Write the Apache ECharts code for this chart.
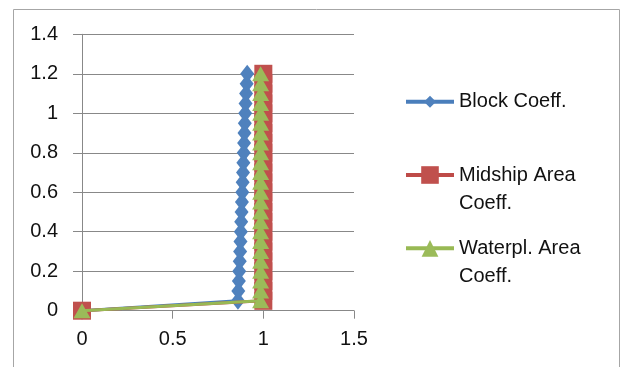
<!DOCTYPE html>
<html>
<head>
<meta charset="utf-8">
<script src="https://cdn.jsdelivr.net/npm/echarts@6/dist/echarts.min.js"></script>
<style>
html,body{margin:0;padding:0;background:#fff;}
#chart{width:622px;height:367px;}
</style>
</head>
<body>
<div id="chart"></div>
<script>
// Data
const seriesNames = ['Block Coeff.', 'Midship Area Coeff.', 'Waterpl. Area Coeff.'];
const legendLabels = ['Block Coeff.', '\nMidship Area\nCoeff.', '\nWaterpl. Area\nCoeff.'];
const draftY = [0, 0.05, 0.1, 0.15, 0.2, 0.25, 0.3, 0.35, 0.4, 0.45, 0.5, 0.55, 0.6, 0.65, 0.7, 0.75, 0.8, 0.85, 0.9, 0.95, 1.0, 1.05, 1.1, 1.15, 1.2];
const blockX = [0, 0.86, 0.862, 0.865, 0.867, 0.87, 0.872, 0.874, 0.876, 0.878, 0.88, 0.882, 0.884, 0.886, 0.888, 0.89, 0.892, 0.894, 0.896, 0.898, 0.9, 0.902, 0.905, 0.908, 0.911];
const midshipX = [0, 1, 1, 1, 1, 1, 1, 1, 1, 1, 1, 1, 1, 1, 1, 1, 1, 1, 1, 1, 1, 1, 1, 1, 1];
const waterplX = [0, 0.985, 0.985, 0.985, 0.985, 0.985, 0.985, 0.985, 0.985, 0.985, 0.985, 0.985, 0.985, 0.985, 0.985, 0.985, 0.985, 0.985, 0.985, 0.985, 0.985, 0.985, 0.985, 0.985, 0.985];
const xTicks = [0, 0.5, 1, 1.5];
const yTicks = [0, 0.2, 0.4, 0.6, 0.8, 1, 1.2, 1.4];

const pairs = (xs, ys) => xs.map((x, i) => [x, ys[i]]);

const lineColors = ['#4A7EBB', '#BE4B48', '#98B954'];
const fillColors = ['#4F81BD', '#C0504D', '#9BBB59'];
const symbols = ['diamond', 'rect', 'triangle'];
const symbolSizes = [[14, 18], [18, 18], [17, 15]];
const xsets = [blockX, midshipX, waterplX];

const font = 'Liberation Sans, Arial, sans-serif';
const chart = echarts.init(document.getElementById('chart'), null, {renderer: 'canvas'});

const legendTops = [87.7, 133, 206.3];
const legendIconH = [15, 22, 21];

const option = {
  backgroundColor: '#fff',
  animation: false,
  graphic: [{
    type: 'rect',
    shape: {x: 13.5, y: 9.5, width: 606, height: 380},
    style: {fill: 'none', stroke: '#A6A6A6', lineWidth: 1},
    silent: true
  }],
  grid: {left: 82, right: 268, top: 34.3, bottom: 56.3, containLabel: false},
  xAxis: {
    type: 'value',
    min: xTicks[0], max: xTicks[xTicks.length - 1], interval: 0.5,
    axisLine: {show: true, onZero: true, lineStyle: {color: '#888888', width: 1}},
    axisTick: {show: true, inside: false, length: 8, lineStyle: {color: '#888888'}},
    splitLine: {show: false},
    axisLabel: {fontFamily: font, fontSize: 20, color: '#111', margin: 19}
  },
  yAxis: {
    type: 'value',
    min: yTicks[0], max: yTicks[yTicks.length - 1], interval: 0.2,
    axisLine: {show: true, onZero: true, lineStyle: {color: '#888888', width: 1}},
    axisTick: {show: true, inside: false, length: 9, lineStyle: {color: '#888888'}},
    splitLine: {show: true, lineStyle: {color: '#888888', width: 1}},
    axisLabel: {fontFamily: font, fontSize: 20, color: '#111', margin: 24,
      formatter: v => String(Math.round(v * 10) / 10)}
  },
  legend: seriesNames.map((n, i) => ({
    data: [n],
    orient: 'vertical',
    left: 404,
    top: legendTops[i],
    padding: 0,
    itemWidth: 48,
    itemHeight: legendIconH[i],
    selectedMode: false,
    lineStyle: {width: 4},
    formatter: () => legendLabels[i],
    textStyle: {fontFamily: font, fontSize: 20, color: '#111', lineHeight: 28}
  })),
  series: seriesNames.map((n, i) => ({
    name: n,
    type: 'line',
    data: pairs(xsets[i], draftY),
    symbol: symbols[i],
    symbolSize: symbolSizes[i],
    showAllSymbol: true,
    lineStyle: {color: lineColors[i], width: 3},
    itemStyle: {color: fillColors[i], borderWidth: 0},
    emphasis: {disabled: true},
    z: 2 + i
  }))
};
chart.setOption(option);
</script>
</body>
</html>
